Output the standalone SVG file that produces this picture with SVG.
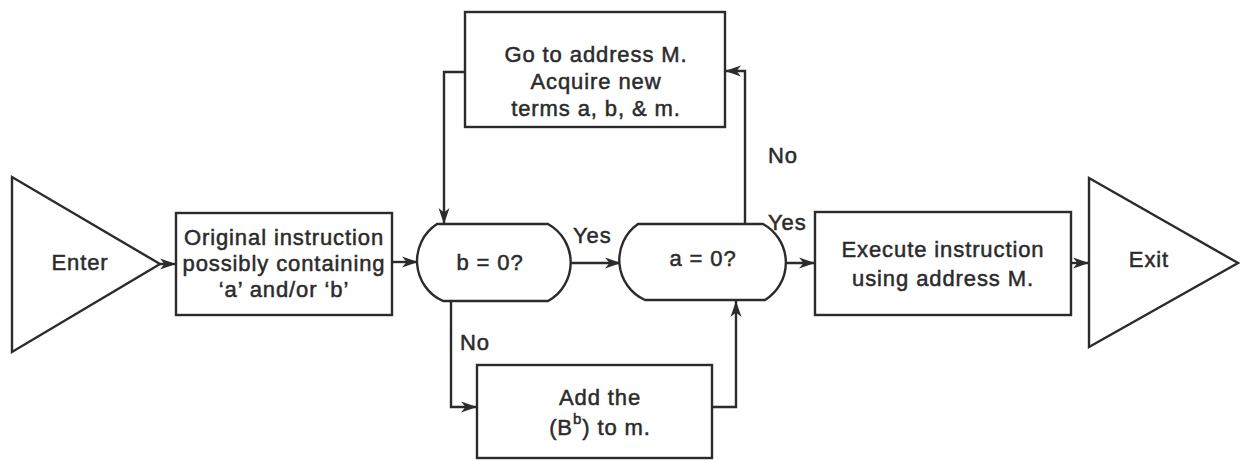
<svg xmlns="http://www.w3.org/2000/svg" width="1240" height="461" viewBox="0 0 1240 461">
<style>
.s{fill:none;stroke:#2b2b2b;stroke-width:2.4;stroke-linejoin:miter}
.n{fill:#fff;stroke:#2b2b2b;stroke-width:2.4}
.t{font-family:"Liberation Sans",Arial,sans-serif;font-size:22px;fill:#2b2b2b;stroke:#2b2b2b;stroke-width:0.5;letter-spacing:0.9px;text-anchor:middle}
.l{text-anchor:start}
</style>
<defs>
<marker id="ah" markerUnits="userSpaceOnUse" markerWidth="18" markerHeight="14" refX="16" refY="7" orient="auto">
<path d="M0,1.5 L16,7 L0,12.5 L4.5,7 Z" fill="#2b2b2b"/>
</marker>
</defs>
<rect width="1240" height="461" fill="#fff"/>
<g id="connectors">
<line class="s" x1="160" y1="264" x2="176" y2="264" marker-end="url(#ah)"/>
<line class="s" x1="392" y1="262" x2="418" y2="262" marker-end="url(#ah)"/>
<line class="s" x1="567" y1="263" x2="621" y2="263" marker-end="url(#ah)"/>
<line class="s" x1="780" y1="263" x2="815" y2="263" marker-end="url(#ah)"/>
<line class="s" x1="1071" y1="263" x2="1089" y2="263" marker-end="url(#ah)"/>
<polyline class="s" points="465,72 444,72 444,224" marker-end="url(#ah)"/>
<polyline class="s" points="745,224 745,71 725,71" marker-end="url(#ah)"/>
<polyline class="s" points="451,301 451,407 477,407" marker-end="url(#ah)"/>
<polyline class="s" points="712,407 736,407 736,301" marker-end="url(#ah)"/>
</g>
<g id="enter">
<polygon class="n" points="12,177 12,352 160,264"/>
<text class="t" x="80" y="270">Enter</text>
</g>
<g id="original">
<rect class="n" x="176" y="213" width="216" height="102"/>
<text class="t" x="284" y="245">Original instruction</text>
<text class="t" x="284" y="271">possibly containing</text>
<text class="t" x="284" y="297">‘a’ and/or ‘b’</text>
</g>
<g id="b-test">
<path class="n" d="M437,224 L548,224 A44,44 0 0 1 548,301 L443,301 A44,44 0 0 1 437,224 Z"/>
<text class="t" x="490" y="270">b = 0?</text>
</g>
<g id="a-test">
<path class="n" d="M638,224 L763,224 A44,44 0 0 1 765,300 L645,300 A44,44 0 0 1 638,224 Z"/>
<text class="t" x="703" y="266">a = 0?</text>
</g>
<g id="goto">
<rect class="n" x="465" y="12" width="260" height="115"/>
<text class="t" x="596" y="62">Go to address M.</text>
<text class="t" x="596" y="89">Acquire new</text>
<text class="t" x="596" y="116">terms a, b, &amp; m.</text>
</g>
<g id="add">
<rect class="n" x="477" y="365" width="235" height="93"/>
<text class="t" x="600" y="405">Add the</text>
<text class="t" x="600" y="435">(B<tspan dy="-11" font-size="15px">b</tspan><tspan dy="11">) to m.</tspan></text>
</g>
<g id="execute">
<rect class="n" x="815" y="212" width="256" height="103"/>
<text class="t" x="943" y="257">Execute instruction</text>
<text class="t" x="943" y="286">using address M.</text>
</g>
<g id="exit">
<polygon class="n" points="1089,178 1089,347 1238,263"/>
<text class="t" x="1149" y="267">Exit</text>
</g>
<g id="labels">
<text class="t l" x="573" y="243">Yes</text>
<text class="t l" x="768" y="230">Yes</text>
<text class="t l" x="768" y="163">No</text>
<text class="t l" x="460" y="350">No</text>
</g>
</svg>
